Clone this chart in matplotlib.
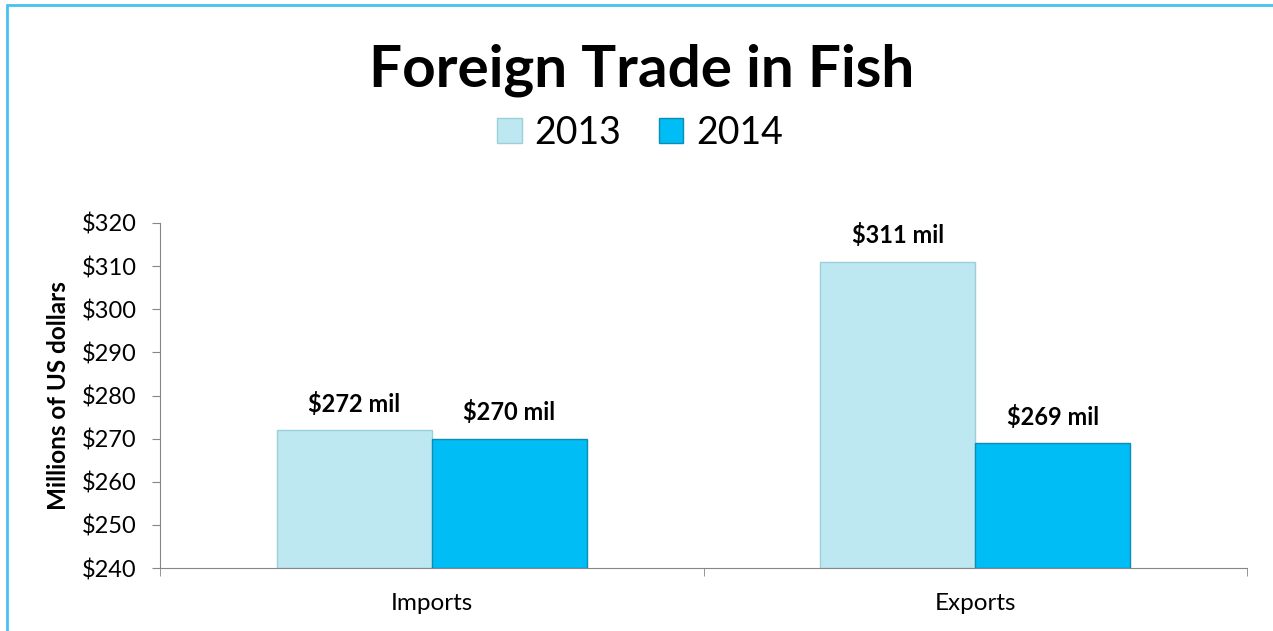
import matplotlib.pyplot as plt
from matplotlib.patches import Rectangle
from matplotlib.ticker import FixedLocator
import numpy as np

plt.rcParams['font.family'] = ['Lato', 'DejaVu Sans']

categories = ["Imports", "Exports"]
years = ["2013", "2014"]
values_2013 = [272, 311]
values_2014 = [270, 269]
labels_2013 = ["$272 mil", "$311 mil"]
labels_2014 = ["$270 mil", "$269 mil"]
yticks = [240, 250, 260, 270, 280, 290, 300, 310, 320]

fig = plt.figure(figsize=(12.73, 6.31), dpi=100)
ax = fig.add_axes([0.1257, 0.0998, 0.8539, 0.5468])

x = np.arange(len(categories))
w = 0.285
b1 = ax.bar(x - w / 2, np.array(values_2013) - 240, w, bottom=240,
            color="#BDE8F1", edgecolor="#9CCFDA", linewidth=1.0,
            label=years[0], zorder=2)
b2 = ax.bar(x + w / 2, np.array(values_2014) - 240, w, bottom=240,
            color="#00BDF5", edgecolor="#0B8DB5", linewidth=1.0,
            label=years[1], zorder=2)

for xi, v, t in zip(x - w / 2, values_2013, labels_2013):
    ax.annotate(t, (xi, v), xytext=(0, 19), textcoords="offset points",
                ha="center", va="center", fontsize=17, fontweight="bold")
for xi, v, t in zip(x + w / 2, values_2014, labels_2014):
    ax.annotate(t, (xi, v), xytext=(0, 19), textcoords="offset points",
                ha="center", va="center", fontsize=17, fontweight="bold")

ax.set_xlim(-0.5, 1.5)
ax.set_ylim(240, 320)
ax.set_yticks(yticks)
ax.set_yticklabels([f"${t}" for t in yticks], fontsize=17)
ax.set_xticks(x)
ax.set_xticklabels(categories, fontsize=17.5)
ax.xaxis.set_minor_locator(FixedLocator([-0.5, 0.5, 1.5]))
ax.tick_params(axis="x", which="major", length=0, pad=18)
ax.tick_params(axis="x", which="minor", length=6, color="#868686")
ax.tick_params(axis="y", length=6, color="#868686", pad=11)
for s in ["top", "right"]:
    ax.spines[s].set_visible(False)
for s in ["left", "bottom"]:
    ax.spines[s].set_color("#868686")
ax.set_ylabel("Millions of US dollars", fontsize=17.5, fontweight="bold", labelpad=8)

fig.text(0.504, 0.888, "Foreign Trade in Fish", ha="center", va="center",
         fontsize=42, fontweight="bold")
fig.legend(handles=[b1, b2], loc="center", bbox_to_anchor=(0.503, 0.79),
           ncol=2, frameon=False, fontsize=27, handlelength=0.65,
           handleheight=0.65, handletextpad=0.35, columnspacing=1.0)

fig.patches.append(Rectangle((0.0055, -0.05), 1.1, 1.0 - 0.0079 + 0.05,
                             transform=fig.transFigure, fill=False,
                             edgecolor="#45C3EE", linewidth=2))

fig.savefig("out.png", dpi=100)
